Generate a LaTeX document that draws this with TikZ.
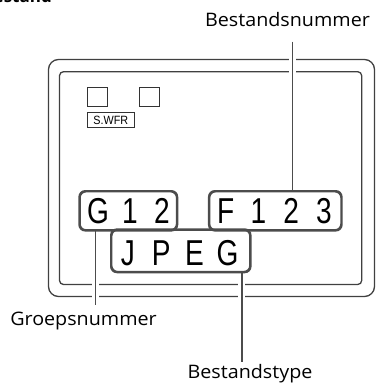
\documentclass[tikz,border=0pt]{standalone}
\usepackage{fontspec}
\setmainfont{Open Sans}
\newfontfamily\lblfont[FakeStretch=1.06]{Open Sans}
\newfontfamily\lcd[FakeStretch=0.78]{Liberation Sans}
\newfontfamily\smallsans[FakeStretch=0.9]{Liberation Sans}
\newcommand\lc[2][32pt]{\makebox[#1]{#2}}
\begin{document}
\begin{tikzpicture}[x=1pt,y=-1pt,
 frame/.style={draw=black!75, line width=1.3pt},
 lead/.style={draw=black!70, line width=1.6pt, preaction={draw=white, line width=7pt}},
 dispbox/.style={draw=black!70, line width=1.6pt, rounded corners=6pt, inner sep=0pt},
 disptext/.style={font=\lcd\fontsize{36}{36}\selectfont, inner sep=0pt, anchor=base},
 lbl/.style={font=\lblfont\fontsize{18.6}{18.6}\selectfont, inner sep=0pt, anchor=base},
 icon/.style={draw=black!80, line width=1.2pt, inner sep=0pt}
]
\useasboundingbox (0,0) rectangle (376,383);
\node[font=\bfseries\fontsize{17}{17}\selectfont, anchor=base east, inner sep=0pt] (ttl) at (52,2) {Bestand};
% frames
\draw[frame, rounded corners=10pt] (48.5,59.5) rectangle (374.5,296.5);
\draw[frame, rounded corners=4pt] (59.5,71.7) rectangle (361.7,284.5);
% icons
\node[icon, minimum width=20pt, minimum height=19.4pt] (sq1) at (97.3,97) {};
\node[icon, minimum width=20pt, minimum height=19.4pt] (sq2) at (149.7,97) {};
\node[icon, minimum width=47pt, minimum height=14.6pt, font=\smallsans\fontsize{12}{12}\selectfont] (swfr) at (110.8,120) {S.WFR};
% display boxes
\node[dispbox, minimum width=96.7pt, minimum height=38.3pt] (G12) at (128.3,210.8) {};
\node[dispbox, minimum width=131.5pt, minimum height=38.3pt] (F123) at (275.3,210.8) {};
\node[dispbox, minimum width=138.3pt, minimum height=41.7pt] (JPEG) at (180.8,250.8) {};
\node[disptext] (tG12) at (130,223) {\lc{G}\lc{1}\lc{2}};
\node[disptext] (tF123) at (274.8,223) {\lc[32.8pt]{F}\lc[32.8pt]{1}\lc[32.8pt]{2}\lc[32.8pt]{3}};
\node[disptext] (tJPEG) at (177.8,265) {\lc[33.2pt]{J}\lc[33.2pt]{P}\lc[33.2pt]{E}\lc[33.2pt]{G}};
% labels
\node[lbl] (lbn) at (287.5,26.7) {Bestandsnummer};
\node[lbl] (lgn) at (83.5,325) {Groepsnummer};
\node[lbl] (lbt) at (250,378.3) {Bestandstype};
% leaders
\coordinate (bnEnd) at (292.3,41.7);
\coordinate (gnEnd) at (95.5,305);
\coordinate (btEnd) at (241.7,361.7);
\draw[lead] (bnEnd) -- (bnEnd |- F123.north);
\draw[lead] (gnEnd |- G12.south) -- (gnEnd);
\draw[lead] (btEnd |- JPEG.south) -- (btEnd);
% redraw box outlines over halos
\draw[dispbox] (G12.north west) rectangle (G12.south east);
\draw[dispbox] (F123.north west) rectangle (F123.south east);
\draw[dispbox] (JPEG.north west) rectangle (JPEG.south east);
\end{tikzpicture}
\end{document}
